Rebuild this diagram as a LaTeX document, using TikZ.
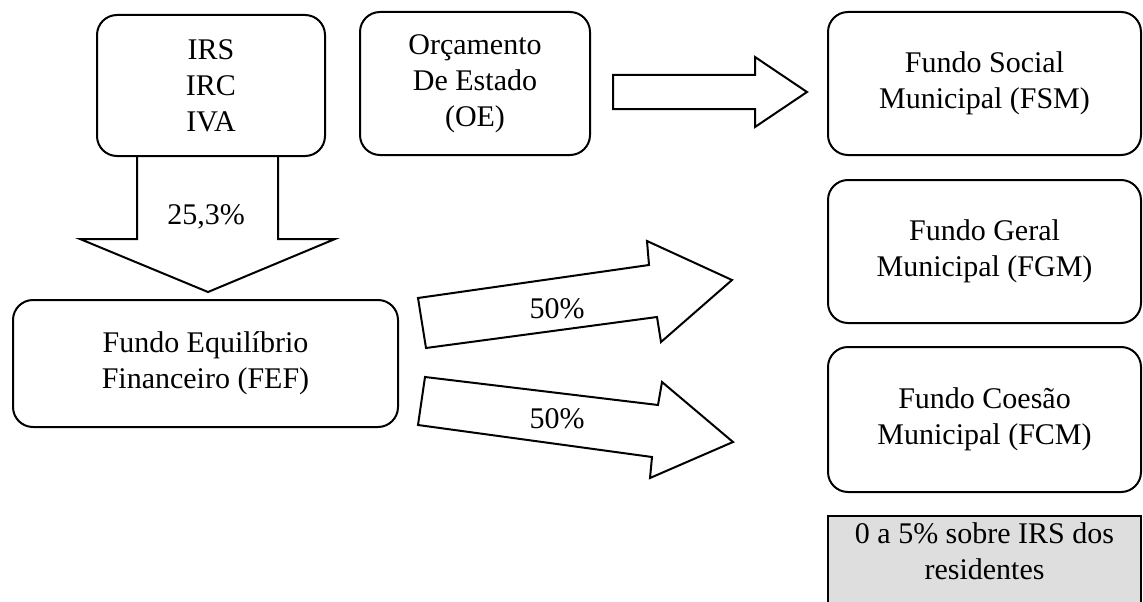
\documentclass[tikz,border=0pt]{standalone}
\usepackage{fontspec}
\setmainfont{Liberation Serif}
\usetikzlibrary{calc}
\begin{document}
\begin{tikzpicture}[x=1pt,y=-1pt,
  txt/.style={font=\fontsize{30}{36}\selectfont},
  box/.style={txt, draw, line width=2pt, rounded corners=20pt, align=center, inner sep=0pt, fill=white},
  blockarrow/.style={draw, line width=2pt, fill=white, line join=miter},
  graybox/.style={draw, line width=2pt, fill=black!13, inner sep=0pt}
]
\useasboundingbox (0,0) rectangle (1143,602);
% arrows first (under boxes)
\draw[blockarrow] (137,156) -- (137,239) -- (80,239) -- (208,292) -- (335,239) -- (278,239) -- (278,156);
\node[box, minimum width=228pt, minimum height=141pt] (irs) at (211,85.5) {IRS\\IRC\\IVA};
\node[box, minimum width=230pt, minimum height=143pt] (oe) at (475,83.5) {Orçamento\\De Estado\\(OE)};
\node[box, minimum width=313pt, minimum height=143pt] (fsm) at (984.5,83.5) {Fundo Social\\Municipal (FSM)};
\node[box, minimum width=313pt, minimum height=143pt] (fgm) at (984.5,251.5) {Fundo Geral\\Municipal (FGM)};
\node[box, minimum width=313pt, minimum height=145pt] (fcm) at (984.5,419.5) {Fundo Coesão\\Municipal (FCM)};
\node[box, minimum width=385pt, minimum height=127pt] (fef) at (205.5,363.5) {Fundo Equilíbrio\\Financeiro (FEF)};
\node[graybox, minimum width=313pt, minimum height=100pt, anchor=north] (gbox) at (984.5,515) {};
\node[txt, align=center, inner sep=0pt] (gtext) at ($(gbox.north)+(0,36)$) {0 a 5\%\ sobre IRS dos\\residentes};

\draw[blockarrow] (613,75) -- (755,75) -- (755,57) -- (807,92) -- (755,127) -- (755,109) -- (613,109) -- cycle;
\draw[blockarrow] (418,298) -- (649,265) -- (647,241) -- (732,280) -- (661,342) -- (657,317) -- (426,348) -- cycle;
\draw[blockarrow] (425,377) -- (658,405) -- (662,382) -- (733,442) -- (650,478) -- (652,457) -- (418,425) -- cycle;

\node[txt, anchor=base, inner sep=0pt] (l1) at (206,224) {25,3\%};
\node[txt, anchor=base, inner sep=0pt] (l2) at (557,318) {50\%};
\node[txt, anchor=base, inner sep=0pt] (l3) at (557,428) {50\%};
\end{tikzpicture}
\end{document}
